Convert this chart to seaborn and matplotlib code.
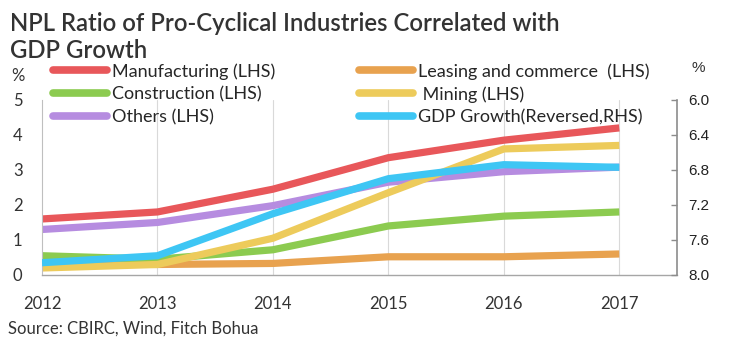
import numpy as np
import pandas as pd
import matplotlib
matplotlib.use("Agg")
import matplotlib.pyplot as plt
import seaborn as sns

# data
years = [2012, 2013, 2014, 2015, 2016, 2017]
manufacturing = [1.60, 1.80, 2.45, 3.35, 3.85, 4.20]
leasing = [0.35, 0.30, 0.33, 0.52, 0.52, 0.60]
construction = [0.55, 0.45, 0.72, 1.40, 1.68, 1.80]
mining = [0.20, 0.30, 1.05, 2.35, 3.60, 3.70]
others = [1.30, 1.50, 1.98, 2.65, 2.95, 3.08]
gdp_growth = [7.86, 7.78, 7.30, 6.90, 6.74, 6.77]

series_names = ["Manufacturing (LHS)", "Leasing and commerce  (LHS)",
                "Construction (LHS)", " Mining (LHS)", "Others (LHS)"]
gdp_name = "GDP Growth(Reversed,RHS)"
colors = {"Manufacturing (LHS)": "#E8575A",
          "Leasing and commerce  (LHS)": "#E8A24F",
          "Construction (LHS)": "#8CCB50",
          " Mining (LHS)": "#EDCB5B",
          "Others (LHS)": "#B68CE0",
          gdp_name: "#3EC6F4"}

df = pd.DataFrame({"year": years * 5,
                   "value": leasing + construction + others + mining + manufacturing,
                   "series": ([series_names[1]] * 6 + [series_names[2]] * 6 +
                              [series_names[4]] * 6 + [series_names[3]] * 6 +
                              [series_names[0]] * 6)})
gdp_df = pd.DataFrame({"year": years, "value": gdp_growth})

sns.set_theme(style="white")
plt.rcParams['font.family'] = ['Lato', 'DejaVu Sans']

fig = plt.figure(figsize=(7.33, 3.53), dpi=100)
# 2012 at x=42px, right spine at 677px, y=0 at 275px, y=5 at 100px
ax = fig.add_axes([0.0573, 0.221, 0.8663, 0.496])

lw = 5.2
sns.lineplot(data=df, x="year", y="value", hue="series", palette=colors,
             linewidth=lw, ax=ax, legend=False, solid_capstyle="butt")
ax.set_xlim(2012, 2017.5)
ax.set_ylim(0, 5)
ax.set_xticks(years)
ax.set_xticklabels([str(y) for y in years], fontsize=12, color="#333333")
ax.set_yticks([0, 1, 2, 3, 4, 5])
ax.set_yticklabels(["0", "1", "2", "3", "4", "5"], fontsize=12, color="#333333")
ax.tick_params(axis="x", length=0, pad=15)
ax.tick_params(axis="y", length=0, pad=14)
ax.set_xlabel("")
ax.set_ylabel("")
for x in years[1:]:
    ax.axvline(x, color="#D9D9D9", linewidth=0.8, zorder=0)
for side in ["top", "right"]:
    ax.spines[side].set_visible(False)
ax.spines["left"].set_color("#BFBFBF")
ax.spines["left"].set_linewidth(0.8)
ax.spines["bottom"].set_color("#A6A6A6")
ax.spines["bottom"].set_linewidth(1.0)

ax2 = ax.twinx()
sns.lineplot(data=gdp_df, x="year", y="value", color=colors[gdp_name],
             linewidth=lw, ax=ax2, solid_capstyle="butt")
ax2.set_ylim(8.0, 6.0)
ax2.set_yticks([6.0, 6.4, 6.8, 7.2, 7.6, 8.0])
ax2.set_yticklabels(["6.0", "6.4", "6.8", "7.2", "7.6", "8.0"],
                    fontsize=11, color="#222222", family="Liberation Sans")
ax2.tick_params(axis="y", direction="in", length=4, width=1, color="#8C8C8C", pad=8)
ax2.set_ylabel("")
for side in ["top", "left", "bottom"]:
    ax2.spines[side].set_visible(False)
ax2.spines["right"].set_color("#8C8C8C")
ax2.spines["right"].set_linewidth(1.2)

# legend in two columns
order = ["Manufacturing (LHS)", "Construction (LHS)", "Others (LHS)",
         "Leasing and commerce  (LHS)", " Mining (LHS)", gdp_name]
handles = [plt.Line2D([], [], color=colors[n], linewidth=5.5, solid_capstyle="round")
           for n in order]
fig.legend(handles, order, ncol=2, loc="upper left", bbox_to_anchor=(0.072, 0.821),
           frameon=False, fontsize=13, handlelength=3.0, handletextpad=0.3,
           columnspacing=4.6, labelspacing=0.36, borderaxespad=0, borderpad=0)

fig.text(0.014, 0.912, "NPL Ratio of Pro-Cyclical Industries Correlated with",
         fontsize=17.2, fontweight="semibold", color="#333333", va="baseline", ha="left")
fig.text(0.014, 0.836, "GDP Growth",
         fontsize=17.2, fontweight="semibold", color="#333333", va="baseline", ha="left")
fig.text(0.016, 0.785, "%", fontsize=12, color="#333333", ha="left", va="center")
fig.text(0.943, 0.807, "%", fontsize=11, color="#333333", ha="left", va="center",
         family="Liberation Sans")
fig.text(0.011, 0.068, "Source: CBIRC, Wind, Fitch Bohua", fontsize=12,
         color="#333333", ha="left", va="center")

fig.savefig("out.png", dpi=100)
